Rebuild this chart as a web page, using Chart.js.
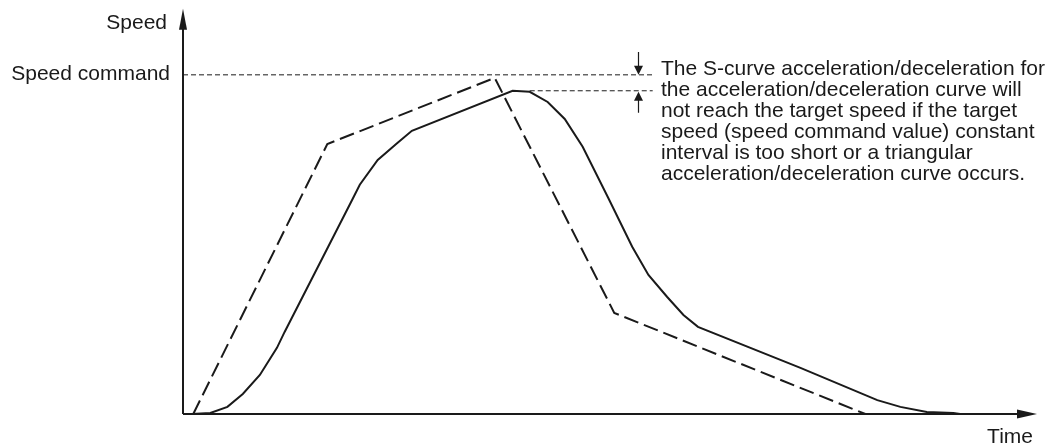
<!DOCTYPE html>
<html>
<head>
<meta charset="utf-8">
<script src="https://cdn.jsdelivr.net/npm/chart.js@4"></script>
<style>
  html, body { margin: 0; padding: 0; background: #fff; }
  #wrap { width: 1057px; height: 448px; }
</style>
</head>
<body>
<div id="wrap"><canvas id="speedChart" width="1057" height="448"></canvas></div>
<script>
// axis ranges (arbitrary units: speed command = 100)
const timeMax = 100;
const speedMax = 120;
const speedCommand = 100;

// trapezoidal (dashed) profile
const dashedTime  = [1.2, 16.9, 36.5, 50.5, 79.9, 90.2];
const dashedSpeed = [0, 79.6, 99.1, 29.8, 0, 0];

// S-curve (solid) profile
const sCurveTime  = [1.0, 3.2, 5.2, 7.0, 9.0, 11.0, 11.9, 19.8, 20.7, 22.8, 25.1, 26.8, 38.6, 40.6,
                     42.7, 44.7, 46.8, 49.8, 52.6, 54.5, 56.7, 58.6, 60.3, 72.3, 81.3, 84.0, 87.1, 90.2, 91.0];
const sCurveSpeed = [0, 0.3, 2.1, 5.9, 11.5, 19.5, 24.2, 63.1, 67.6, 74.9, 79.9, 83.5, 95.3, 95.0,
                     92.0, 87.0, 78.8, 63.7, 49.3, 41.0, 34.5, 29.2, 25.7, 13.6, 4.1, 2.1, 0.6, 0.3, 0];

// reference lines and the gap marker
const commandLineTime = [0, 55.0];
const reachedLineTime = [40.6, 55.0];
const reachedSpeed = 95.3;
const markerTime = 53.3;
const markerTop = 106.7;
const markerBottom = 88.8;

const yLabel = 'Speed';
const xLabel = 'Time';
const commandLabel = 'Speed command';
const noteLines = [
  'The S-curve acceleration/deceleration for',
  'the acceleration/deceleration curve will',
  'not reach the target speed if the target',
  'speed (speed command value) constant',
  'interval is too short or a triangular',
  'acceleration/deceleration curve occurs.'
];

const FONT = '21px "Liberation Sans", Arial, Helvetica, sans-serif';
const INK = '#1a1a1a';

function toPoints(xs, ys) {
  return xs.map((x, i) => ({ x: x, y: ys[i] }));
}

function arrowHead(ctx, tipX, tipY, dx, dy, len, half) {
  // dx,dy: unit direction the arrow points to
  const bx = tipX - dx * len, by = tipY - dy * len;
  ctx.beginPath();
  ctx.moveTo(tipX, tipY);
  ctx.lineTo(bx - dy * half, by + dx * half);
  ctx.lineTo(bx + dy * half, by - dx * half);
  ctx.closePath();
  ctx.fill();
}

const decorations = {
  id: 'decorations',
  afterDatasetsDraw(chart) {
    const ctx = chart.ctx;
    const xs = chart.scales.x, ys = chart.scales.y;
    const x0 = xs.getPixelForValue(0), y0 = ys.getPixelForValue(0);
    const xEnd = xs.getPixelForValue(timeMax);
    const yEnd = ys.getPixelForValue(119.5);

    ctx.save();
    ctx.strokeStyle = INK;
    ctx.fillStyle = INK;

    // axes
    ctx.lineWidth = 2;
    ctx.beginPath();
    ctx.moveTo(x0, y0);
    ctx.lineTo(x0, yEnd + 15);
    ctx.moveTo(x0, y0);
    ctx.lineTo(xEnd - 15, y0);
    ctx.stroke();
    arrowHead(ctx, x0, yEnd, 0, -1, 21, 4);
    arrowHead(ctx, xEnd, y0, 1, 0, 20, 4.5);

    // gap marker
    const mx = Math.round(xs.getPixelForValue(markerTime)) + 0.5;
    const yCmd = ys.getPixelForValue(speedCommand);
    const yReach = ys.getPixelForValue(reachedSpeed);
    ctx.lineWidth = 1.2;
    ctx.beginPath();
    ctx.moveTo(mx, ys.getPixelForValue(markerTop));
    ctx.lineTo(mx, yCmd - 6);
    ctx.moveTo(mx, ys.getPixelForValue(markerBottom));
    ctx.lineTo(mx, yReach + 6);
    ctx.stroke();
    arrowHead(ctx, mx, yCmd, 0, 1, 9, 4.5);
    arrowHead(ctx, mx, yReach + 1, 0, -1, 9, 4.5);

    // texts
    ctx.font = FONT;
    ctx.textAlign = 'right';
    ctx.textBaseline = 'middle';
    ctx.fillText(yLabel, x0 - 16, 23);
    ctx.fillText(commandLabel, x0 - 13, yCmd - 1);
    ctx.fillText(xLabel, xEnd - 4, 437);

    ctx.textAlign = 'left';
    ctx.textBaseline = 'alphabetic';
    noteLines.forEach((line, i) => {
      ctx.fillText(line, 661, 75 + i * 21);
    });
    ctx.restore();
  }
};

const lineBase = {
  showLine: true,
  pointRadius: 0,
  borderColor: INK,
  tension: 0,
  clip: false,
  fill: false
};

new Chart(document.getElementById('speedChart').getContext('2d'), {
  type: 'scatter',
  data: {
    datasets: [
      Object.assign({}, lineBase, {
        label: 'Speed command',
        data: toPoints(commandLineTime, [speedCommand, speedCommand]),
        borderWidth: 1,
        borderDash: [5, 3]
      }),
      Object.assign({}, lineBase, {
        label: 'Reached speed',
        data: toPoints(reachedLineTime, [reachedSpeed, reachedSpeed]),
        borderWidth: 1,
        borderDash: [5, 3]
      }),
      Object.assign({}, lineBase, {
        label: 'Trapezoidal',
        data: toPoints(dashedTime, dashedSpeed),
        borderWidth: 2,
        borderDash: [15, 6]
      }),
      Object.assign({}, lineBase, {
        label: 'S-curve',
        data: toPoints(sCurveTime, sCurveSpeed),
        borderWidth: 2
      })
    ]
  },
  options: {
    responsive: false,
    animation: false,
    layout: { padding: { left: 183, right: 20, top: 7, bottom: 34 } },
    plugins: {
      legend: { display: false },
      tooltip: { enabled: false }
    },
    scales: {
      x: { type: 'linear', min: 0, max: timeMax, display: false },
      y: { type: 'linear', min: 0, max: speedMax, display: false }
    }
  },
  plugins: [decorations]
});
</script>
</body>
</html>
